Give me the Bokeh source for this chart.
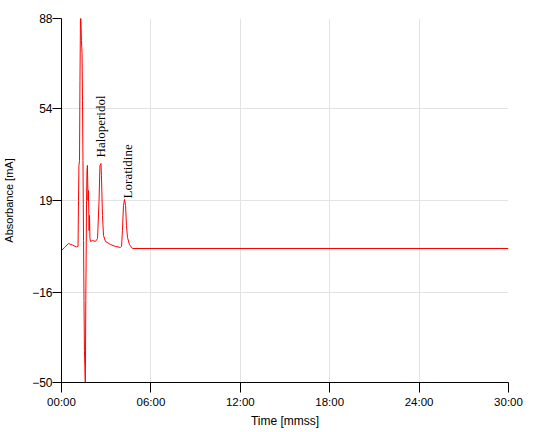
import math
from bokeh.plotting import figure
from bokeh.models import Range1d, FixedTicker, ColumnDataSource
from bokeh.core.properties import value
from bokeh.embed import file_html
from bokeh.resources import INLINE

# Chromatogram trace: time in minutes, absorbance in mA
time_min = [0.00, 0.20, 0.47, 0.74, 1.01, 1.11, 1.14, 1.17, 1.21, 1.24, 1.28,
            1.34, 1.38, 1.41, 1.44, 1.48, 1.51, 1.54, 1.60, 1.63, 1.66, 1.68,
            1.71, 1.74, 1.78, 1.81, 1.85, 1.88, 1.91, 1.95, 2.08, 2.28, 2.42,
            2.52, 2.58, 2.65, 2.68, 2.75, 2.82, 2.95, 3.29, 3.62, 3.96, 4.03,
            4.09, 4.16, 4.23, 4.30, 4.36, 4.43, 4.56, 4.77, 30.00]
absorbance = [0.0, 1.2, 2.7, 2.1, 1.4, 1.6, 19.0, 32.3, 34.2, 64.5, 92.0,
              79.7, 74.7, 56.9, 34.2, 3.8, -18.9, -37.9, -51.0, -18.9, 2.0, 19.0,
              30.4, 32.3, 19.0, 22.8, 7.6, 13.3, 4.6, 3.5, 3.8, 3.5, 4.6,
              19.0, 32.3, 33.0, 28.5, 13.3, 5.7, 3.5, 2.3, 1.6, 1.2, 1.6,
              7.6, 17.1, 19.4, 17.1, 9.5, 5.0, 2.3, 0.8, 0.8]

# Peak annotations
peak_names = ["Haloperidol", "Loratidine"]
peak_time = [2.64, 4.40]
peak_level = [35.3, 19.8]

# Axis ticks
x_ticks = [0, 6, 12, 18, 24, 30]
x_tick_labels = ["00:00", "06:00", "12:00", "18:00", "24:00", "30:00"]
y_ticks = [-50, -16, 19, 54, 88]

p = figure(width=545, height=430, output_backend="svg", toolbar_location=None,
           x_range=Range1d(0, 30), y_range=Range1d(-50, 88),
           min_border_left=61, min_border_right=37, min_border_top=18,
           min_border_bottom=48)
p.outline_line_color = None
p.background_fill_color = "white"
p.border_fill_color = "white"

p.line(time_min, absorbance, line_color="#ff0000", line_width=1)

src = ColumnDataSource(dict(x=peak_time, y=peak_level, t=peak_names))
p.text(x="x", y="y", text="t", source=src, angle=math.pi / 2,
       text_align="left", text_baseline="alphabetic",
       text_font=value("Liberation Serif"), text_font_size="13px",
       text_color="black")

for ax in (p.xaxis[0], p.yaxis[0]):
    ax.axis_line_color = "black"
    ax.axis_line_width = 1
    ax.major_tick_line_color = "black"
    ax.major_tick_in = 0
    ax.minor_tick_line_color = None
    ax.major_label_text_font = "Liberation Sans"
    ax.major_label_text_color = "black"
    ax.axis_label_text_font = "Liberation Sans"
    ax.axis_label_text_font_style = "normal"
    ax.axis_label_text_color = "black"

p.xaxis.ticker = FixedTicker(ticks=x_ticks)
p.xaxis.major_label_overrides = {t: l for t, l in zip(x_ticks, x_tick_labels)}
p.xaxis.major_tick_out = 10
p.xaxis.major_label_standoff = 3
p.xaxis.major_label_text_font_size = "11.5px"
p.xaxis.axis_label = "Time [mmss]"
p.xaxis.axis_label_text_font_size = "12px"
p.xaxis.axis_label_standoff = 3

p.yaxis.ticker = FixedTicker(ticks=y_ticks)
p.yaxis.major_tick_out = 9
p.yaxis.major_label_standoff = 0
p.yaxis.major_label_text_font_size = "12px"
p.yaxis.axis_label = "Absorbance [mA]"
p.yaxis.axis_label_text_font_size = "11px"
p.yaxis.axis_label_standoff = 14

p.grid.grid_line_color = "#e3e3e3"
p.grid.grid_line_width = 1
p.xgrid.ticker = FixedTicker(ticks=x_ticks)
p.ygrid.ticker = FixedTicker(ticks=y_ticks)

open("out.html", "w").write(file_html(p, INLINE))
